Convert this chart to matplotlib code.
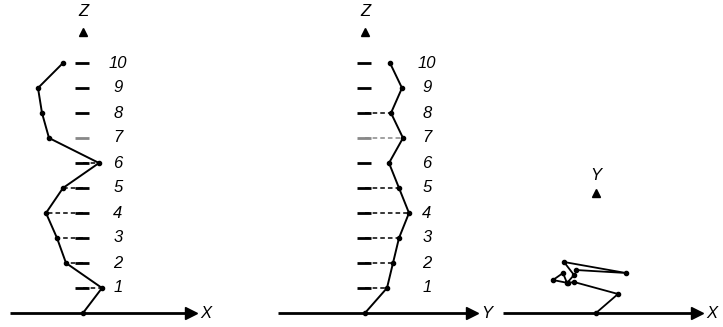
import matplotlib
matplotlib.use("Agg")
import matplotlib.pyplot as plt

# ---- data (pixel offsets) ----
levels = [1, 2, 3, 4, 5, 6, 7, 8, 9, 10]
level_labels = [str(k) for k in levels]

# panel 1: horizontal displacement along X at each level
x_disp = [19, -17, -26, -37, -20, 16, -34, -41, -45, -20]
# panel 2: horizontal displacement along Y at each level
y_disp = [22, 28, 34, 44, 34, 24, 38, 26, 37, 25]
# which levels have a dashed connector back to the axis
x_conn = [1, 2, 3, 4, 5, 6]
y_conn = [1, 2, 3, 4, 5, 7, 8]

# panel 3: plan view trajectory (X right, Y up)
plan_x = [0, 22, -22, -28, -43, -33, -29, -22, -32, 30, -20]
plan_y = [0, 19, 31, 30, 33, 40, 30, 38, 51, 40, 43]

# ---- layout ----
W, H = 723, 327
BASE = 313          # y of horizontal axes
STEP = 25           # px per level

fig = plt.figure(figsize=(W / 100, H / 100), dpi=100)
ax = fig.add_axes([0, 0, 1, 1])
ax.set_xlim(0, W)
ax.set_ylim(H, 0)
ax.axis("off")

txt = dict(family="Liberation Sans", fontsize=12, ha="center", va="center")


def axis_h(x0, x1, label):
    ax.plot([x0, x1 - 6], [BASE, BASE], color="black", lw=2, solid_capstyle="butt")
    ax.plot(x1, BASE, marker=">", ms=8, color="black", mec="black")
    ax.text(x1 + 15, BASE + 1, label, style="italic", **txt)


def profile(ox, disp, conn, axis_name, horiz_name, x0, x1):
    axis_h(x0, x1, horiz_name)
    ax.plot(ox, 32, marker="^", ms=6, color="black")
    ax.text(ox, 12, axis_name, style="italic", **txt)
    ys = [BASE - STEP * k for k in levels]
    xs = [ox + d for d in disp]
    for k, x, y in zip(levels, xs, ys):
        col = "#888888" if k == 7 else "black"
        if k in conn:
            ax.plot([ox, x], [y, y], color=col, lw=1.1, dashes=(3, 2))
        ax.plot([ox - 8, ox + 6], [y, y], color=col, lw=2, solid_capstyle="butt")
    ax.plot([ox] + xs, [BASE] + ys, color="black", lw=1.4, marker="o", ms=3)
    return ys


ys = profile(83, x_disp, x_conn, "Z", "X", 10, 191)
for lab, y in zip(level_labels, ys):
    ax.text(118, y, lab, style="italic", **txt)

ys = profile(365, y_disp, y_conn, "Z", "Y", 278, 472)
for lab, y in zip(level_labels, ys):
    ax.text(427, y, lab, style="italic", **txt)

# plan view
ox3 = 596
axis_h(503, 697, "X")
ax.plot(ox3, 193, marker="^", ms=6, color="black")
ax.text(ox3, 175, "Y", style="italic", **txt)
ax.plot([ox3 + v for v in plan_x], [BASE - v for v in plan_y],
        color="black", lw=1.3, marker="o", ms=3)

fig.savefig("out.png", dpi=100)
